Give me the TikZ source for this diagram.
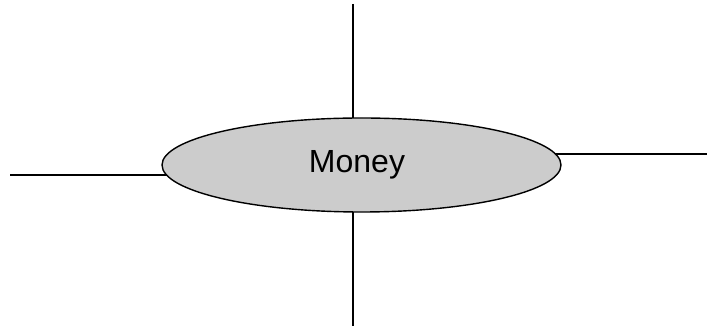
\documentclass[tikz,border=0pt]{standalone}
\usepackage{fontspec}
\setmainfont{Liberation Sans}
\usetikzlibrary{shapes.geometric,backgrounds}
\definecolor{ellfill}{RGB}{204,204,204}
\tikzset{
  bubble/.style={ellipse, draw=black, line width=1.4pt, fill=ellfill, inner sep=0pt,
    minimum width=399pt, minimum height=94pt},
  spoke/.style={draw=black, line width=2.3pt}
}
\begin{document}
\begin{tikzpicture}[x=1pt,y=1pt]
\useasboundingbox (0,0) rectangle (707,326);
\node[bubble] (e) at (361.5,161) {};
\node[anchor=base, font=\fontsize{32}{38}\selectfont] (t) at (357,153.3) {Money};
\coordinate (top) at (353,322);
\coordinate (bot) at (353,0);
\coordinate (lft) at (10,151);
\coordinate (rgt) at (707,172);
\begin{scope}[on background layer]
\draw[spoke] (top) -- (top |- e.center);
\draw[spoke] (bot) -- (bot |- e.center);
\draw[spoke] (lft) -- (lft -| e.center);
\draw[spoke] (rgt) -- (rgt -| e.center);
\end{scope}
\end{tikzpicture}
\end{document}
